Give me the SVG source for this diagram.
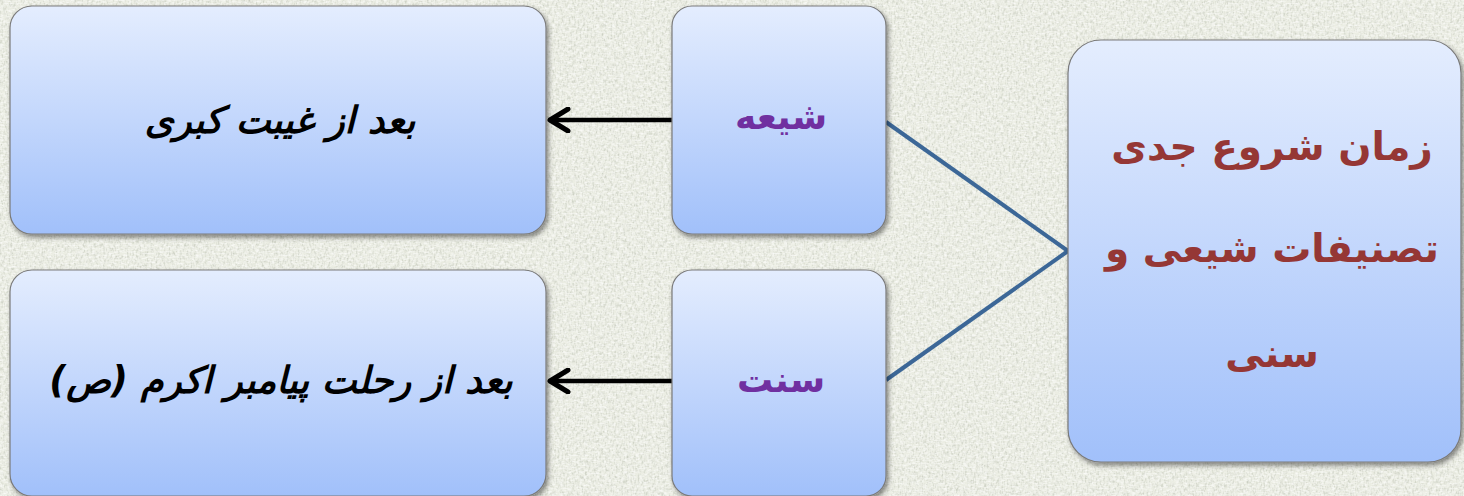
<svg xmlns="http://www.w3.org/2000/svg" width="1464" height="496" viewBox="0 0 1464 496">
<defs>
<linearGradient id="boxg" x1="0" y1="0" x2="0" y2="1">
<stop offset="0" stop-color="#e4edfe"/>
<stop offset="1" stop-color="#a1c0fa"/>
</linearGradient>
<filter id="shadow" x="-10%" y="-10%" width="120%" height="120%">
<feGaussianBlur in="SourceAlpha" stdDeviation="2.5"/>
<feOffset dx="2" dy="3" result="b"/>
<feComponentTransfer><feFuncA type="linear" slope="0.45"/></feComponentTransfer>
<feMerge><feMergeNode/><feMergeNode in="SourceGraphic"/></feMerge>
</filter>
<filter id="linen" x="0" y="0" width="100%" height="100%">
<feTurbulence type="fractalNoise" baseFrequency="0.55 0.25" numOctaves="3" seed="7" result="n"/>
<feColorMatrix in="n" type="matrix" values="0 0 0 0 0.5  0 0 0 0 0.53  0 0 0 0 0.45  0 0 0 2.2 -0.95"/>
</filter>
<filter id="linen2" x="0" y="0" width="100%" height="100%">
<feTurbulence type="fractalNoise" baseFrequency="0.25 0.6" numOctaves="2" seed="11" result="n"/>
<feColorMatrix in="n" type="matrix" values="0 0 0 0 1  0 0 0 0 1  0 0 0 0 1  0 0 0 2.2 -0.85"/>
</filter>
<marker id="arrow" viewBox="0 0 24 26" refX="21" refY="13" markerWidth="24" markerHeight="26" orient="auto" markerUnits="userSpaceOnUse">
<path d="M3,2 L21,13 L3,24" fill="none" stroke="#000" stroke-width="5" stroke-linecap="round" stroke-linejoin="round"/>
</marker>
</defs>
<style>
.box{fill:url(#boxg);stroke:#7a7a7a;stroke-width:1.2;filter:url(#shadow)}
.t{font-family:"DejaVu Sans",sans-serif;font-weight:bold;text-anchor:middle;direction:rtl}
.blk{fill:#000;font-size:37px;font-style:italic}
.pur{fill:#7030a0;font-size:36px}
.red{fill:#953735;font-size:39px}
.arr{stroke:#000;stroke-width:4.5;fill:none;marker-end:url(#arrow)}
.ln{stroke:#3c6797;stroke-width:4;fill:none}
</style>
<rect width="1464" height="496" fill="#ebede3"/>
<rect width="1464" height="496" filter="url(#linen)" opacity="0.65"/>
<rect width="1464" height="496" filter="url(#linen2)" opacity="0.7"/>
<g id="connectors">
<path class="arr" d="M672,120 L550,120"/>
<path class="arr" d="M672,381 L550,381"/>
<path class="ln" d="M886,122 L1068,251"/>
<path class="ln" d="M886,380 L1068,251"/>
</g>
<g id="node-after-ghaybat">
<rect class="box" x="10" y="6" width="536" height="228" rx="22"/>
<text class="t blk" x="280" y="133">بعد از غیبت کبری</text>
</g>
<g id="node-shia">
<rect class="box" x="672" y="6" width="214" height="228" rx="20"/>
<text class="t pur" x="781" y="129">شیعه</text>
</g>
<g id="node-after-prophet">
<rect class="box" x="10" y="270" width="536" height="226" rx="22"/>
<text class="t blk" x="281" y="393">بعد از رحلت پیامبر اکرم (ص)</text>
</g>
<g id="node-sunni">
<rect class="box" x="672" y="270" width="214" height="226" rx="20"/>
<text class="t pur" x="781" y="392">سنت</text>
</g>
<g id="node-main">
<rect class="box" x="1068" y="40" width="393" height="422" rx="33"/>
<text class="t red" x="1272" y="160">زمان شروع جدی</text>
<text class="t red" x="1272" y="262">تصنیفات شیعی و</text>
<text class="t red" x="1272" y="367">سنی</text>
</g>
</svg>
